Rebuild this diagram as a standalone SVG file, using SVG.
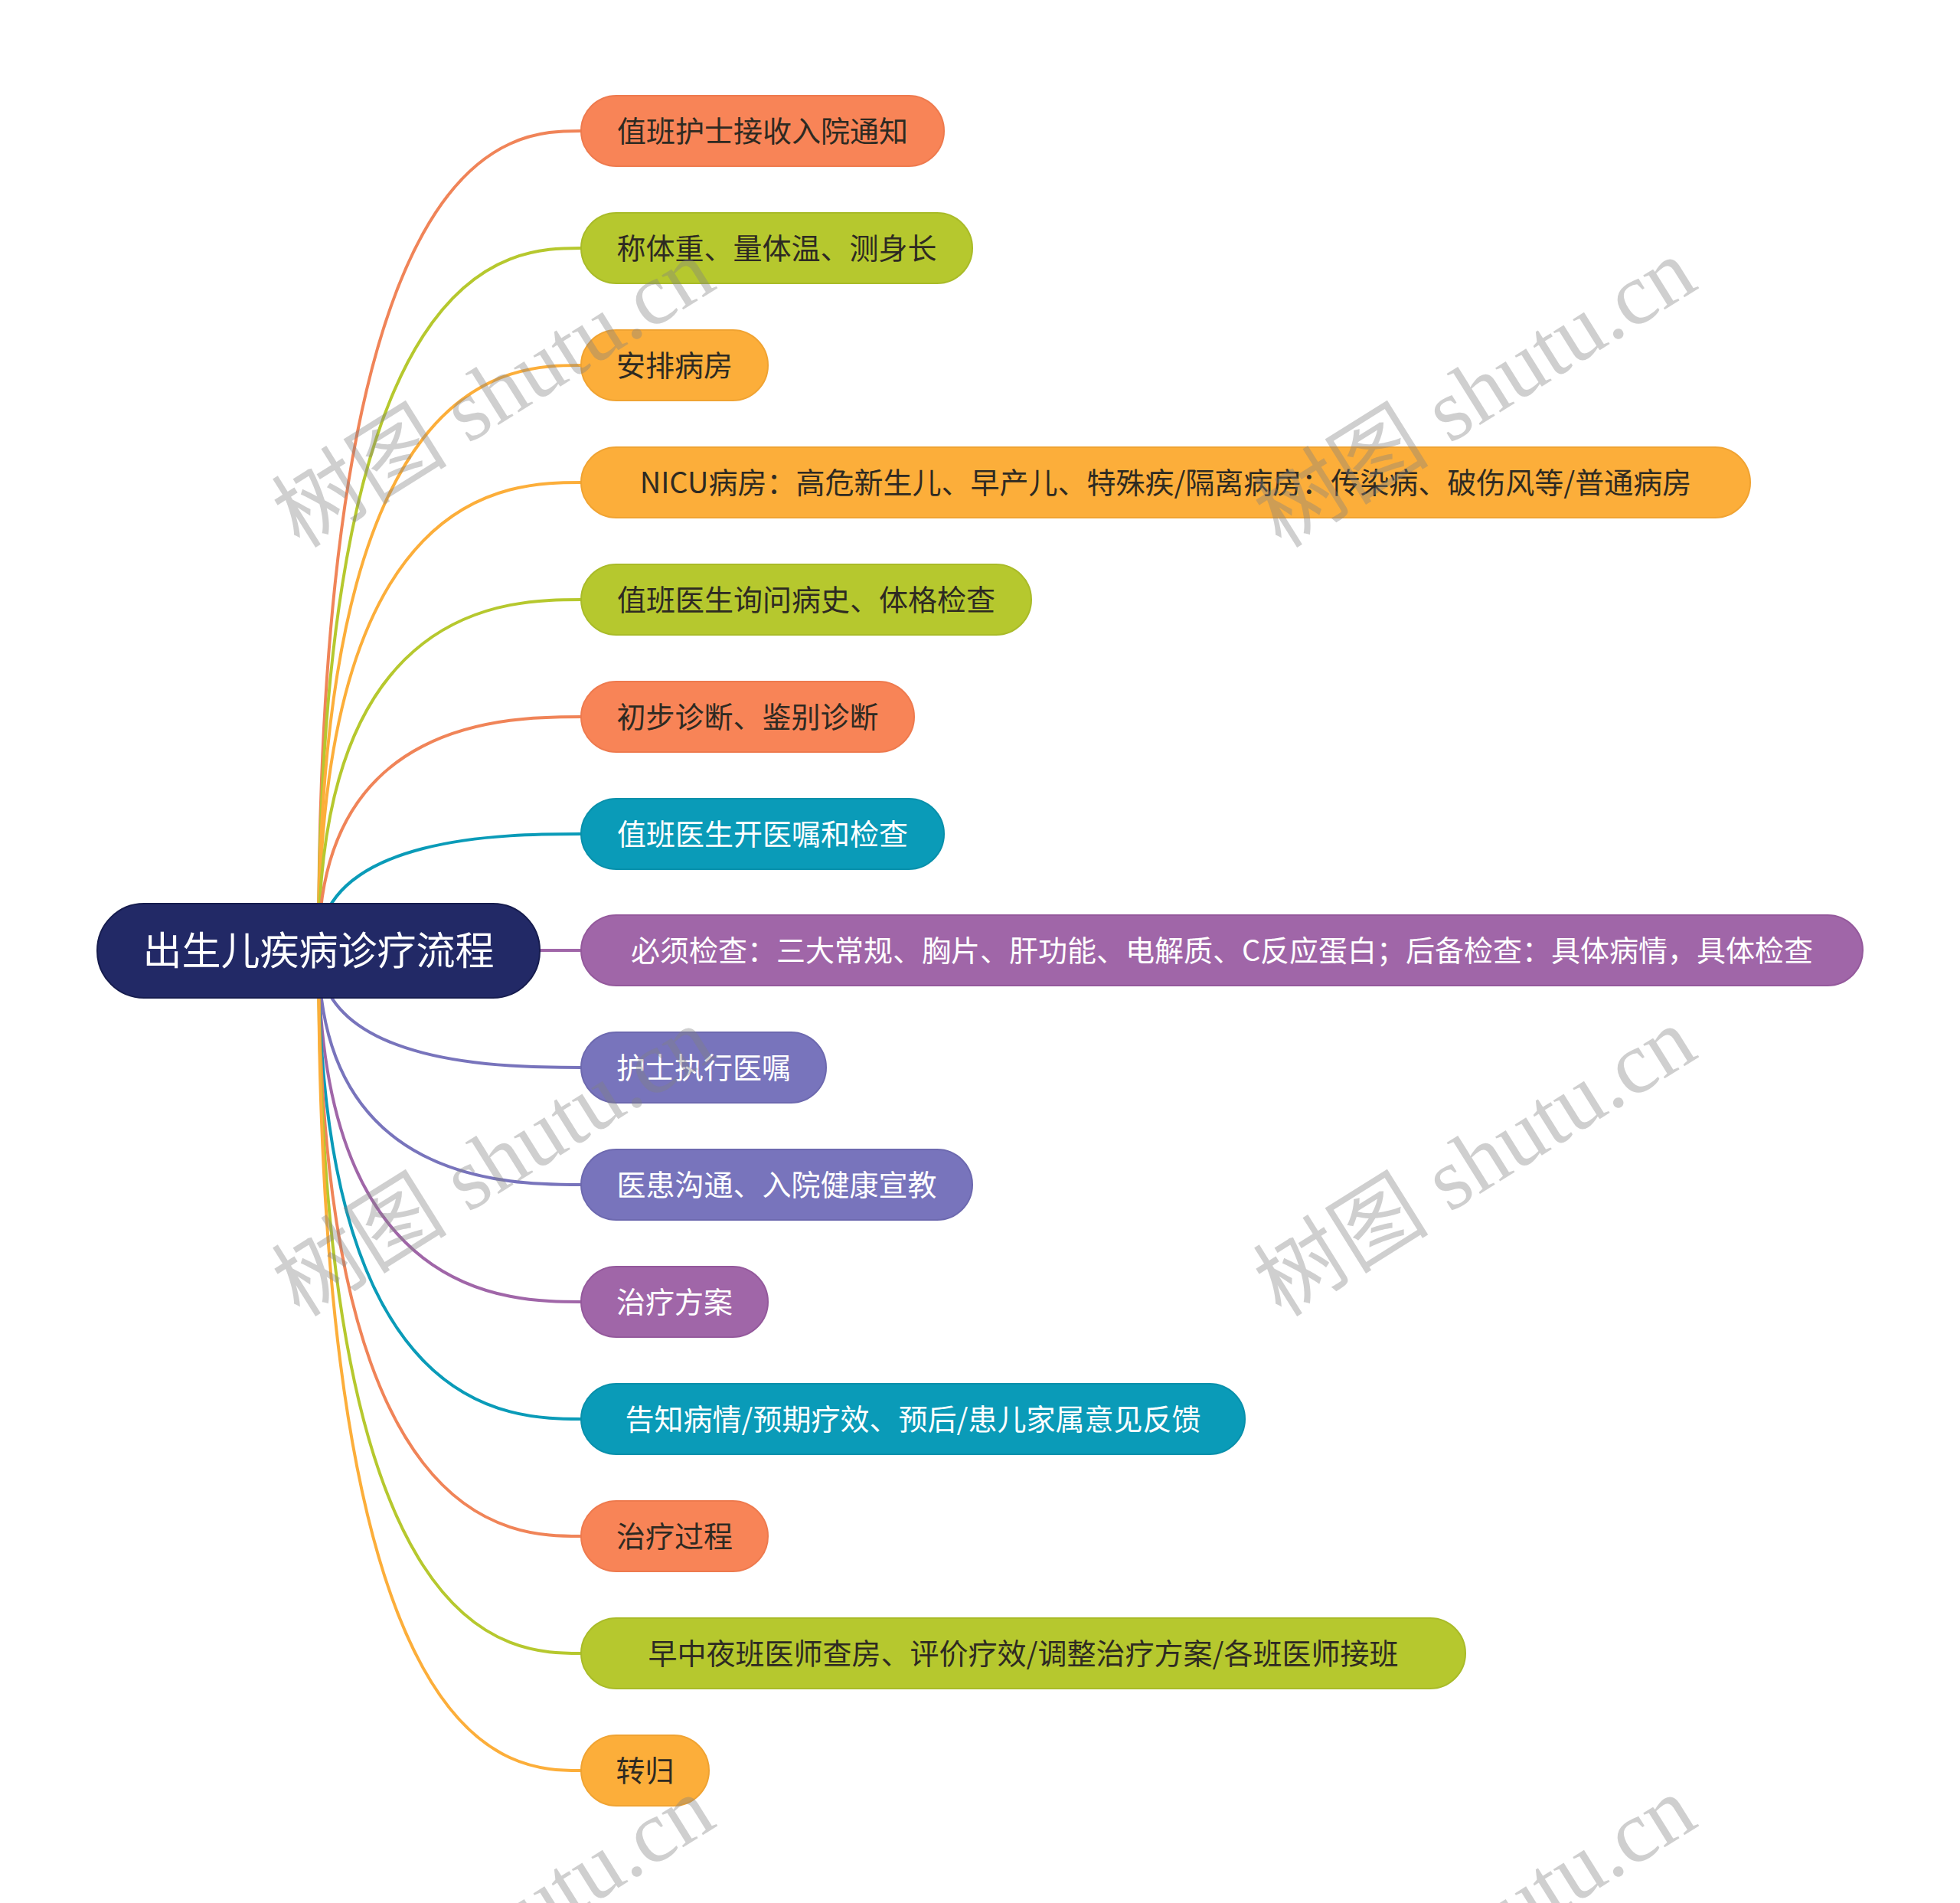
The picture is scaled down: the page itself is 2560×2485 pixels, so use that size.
<svg xmlns="http://www.w3.org/2000/svg" width="2560" height="2485" viewBox="0 0 2560 2485">
<style>
.n text{font-family:"Noto Sans CJK SC","Noto Sans",sans-serif;font-size:38px;text-anchor:middle}
.dk{fill:#2E2A22}
.wt{fill:#FFFFFF}
.c path{fill:none;stroke-width:4}
.or{fill:#F88457;stroke:#EE7A4E;stroke-width:2}
.gr{fill:#B6C82E;stroke:#A9BB28;stroke-width:2}
.am{fill:#FCAE3A;stroke:#F0A332;stroke-width:2}
.te{fill:#0A9BB8;stroke:#0890AB;stroke-width:2}
.pu{fill:#A066A8;stroke:#94599C;stroke-width:2}
.bp{fill:#7874BC;stroke:#6D69AF;stroke-width:2}
.wm{font-family:"Liberation Serif","Noto Sans CJK SC",serif;font-size:115px;fill:#808080;fill-opacity:0.38;text-anchor:middle}
</style>
<rect width="2560" height="2485" fill="#FFFFFF"/>
<g id="connectors" class="c">
<path d="M416,1241 C416,171 666,171 759,171" stroke="#F08458"/>
<path d="M416,1241 C416,324 666,324 759,324" stroke="#B6C82E"/>
<path d="M416,1241 C416,477 666,477 759,477" stroke="#FCAE3A"/>
<path d="M416,1241 C416,630 666,630 759,630" stroke="#FCAE3A"/>
<path d="M416,1241 C416,783 666,783 759,783" stroke="#B6C82E"/>
<path d="M416,1241 C416,936 666,936 759,936" stroke="#F08458"/>
<path d="M416,1241 C416,1089 666,1089 759,1089" stroke="#0A9BB8"/>
<path d="M416,1241 L759,1241" stroke="#A066A8"/>
<path d="M416,1241 C416,1394 666,1394 759,1394" stroke="#7874BC"/>
<path d="M416,1241 C416,1547 666,1547 759,1547" stroke="#7874BC"/>
<path d="M416,1241 C416,1700 666,1700 759,1700" stroke="#A066A8"/>
<path d="M416,1241 C416,1853 666,1853 759,1853" stroke="#0A9BB8"/>
<path d="M416,1241 C416,2006 666,2006 759,2006" stroke="#F08458"/>
<path d="M416,1241 C416,2159 666,2159 759,2159" stroke="#B6C82E"/>
<path d="M416,1241 C416,2312 666,2312 759,2312" stroke="#FCAE3A"/>
</g>
<g id="root" class="n">
<rect x="127" y="1180" width="578" height="123" rx="61" fill="#222966" stroke="#161C4E" stroke-width="2"/>
<text x="416" y="1260" class="wt" style="font-size:51px">出生儿疾病诊疗流程</text>
</g>
<g id="n1" class="n"><rect x="759" y="125" width="474" height="92" rx="46" class="or"/><text x="996" y="185" class="dk">值班护士接收入院通知</text></g>
<g id="n2" class="n"><rect x="759" y="278" width="511" height="92" rx="46" class="gr"/><text x="1014.5" y="338" class="dk">称体重、量体温、测身长</text></g>
<g id="n3" class="n"><rect x="759" y="431" width="244" height="92" rx="46" class="am"/><text x="881" y="491" class="dk">安排病房</text></g>
<g id="n4" class="n"><rect x="759" y="584" width="1527" height="92" rx="46" class="am"/><text x="1522.5" y="644" class="dk">NICU病房：高危新生儿、早产儿、特殊疾/隔离病房：传染病、破伤风等/普通病房</text></g>
<g id="n5" class="n"><rect x="759" y="737" width="588" height="92" rx="46" class="gr"/><text x="1053" y="797" class="dk">值班医生询问病史、体格检查</text></g>
<g id="n6" class="n"><rect x="759" y="890" width="435" height="92" rx="46" class="or"/><text x="976.5" y="950" class="dk">初步诊断、鉴别诊断</text></g>
<g id="n7" class="n"><rect x="759" y="1043" width="474" height="92" rx="46" class="te"/><text x="996" y="1103" class="wt">值班医生开医嘱和检查</text></g>
<g id="n8" class="n"><rect x="759" y="1195" width="1674" height="92" rx="46" class="pu"/><text x="1596" y="1255" class="wt">必须检查：三大常规、胸片、肝功能、电解质、C反应蛋白；后备检查：具体病情，具体检查</text></g>
<g id="n9" class="n"><rect x="759" y="1348" width="320" height="92" rx="46" class="bp"/><text x="919" y="1408" class="wt">护士执行医嘱</text></g>
<g id="n10" class="n"><rect x="759" y="1501" width="511" height="92" rx="46" class="bp"/><text x="1014.5" y="1561" class="wt">医患沟通、入院健康宣教</text></g>
<g id="n11" class="n"><rect x="759" y="1654" width="244" height="92" rx="46" class="pu"/><text x="881" y="1714" class="wt">治疗方案</text></g>
<g id="n12" class="n"><rect x="759" y="1807" width="867" height="92" rx="46" class="te"/><text x="1192.5" y="1867" class="wt">告知病情/预期疗效、预后/患儿家属意见反馈</text></g>
<g id="n13" class="n"><rect x="759" y="1960" width="244" height="92" rx="46" class="or"/><text x="881" y="2020" class="dk">治疗过程</text></g>
<g id="n14" class="n"><rect x="759" y="2113" width="1155" height="92" rx="46" class="gr"/><text x="1336.5" y="2173" class="dk">早中夜班医师查房、评价疗效/调整治疗方案/各班医师接班</text></g>
<g id="n15" class="n"><rect x="759" y="2266" width="167" height="92" rx="46" class="am"/><text x="842.5" y="2326" class="dk">转归</text></g>
<g id="watermarks">
<text class="wm" transform="translate(645,514) rotate(-32)" y="38">树图 shutu.cn</text>
<text class="wm" transform="translate(1927,514) rotate(-32)" y="38">树图 shutu.cn</text>
<text class="wm" transform="translate(645,1518) rotate(-32)" y="38">树图 shutu.cn</text>
<text class="wm" transform="translate(1927,1518) rotate(-32)" y="38">树图 shutu.cn</text>
<text class="wm" transform="translate(645,2522) rotate(-32)" y="38">树图 shutu.cn</text>
<text class="wm" transform="translate(1927,2522) rotate(-32)" y="38">树图 shutu.cn</text>
</g>
</svg>
